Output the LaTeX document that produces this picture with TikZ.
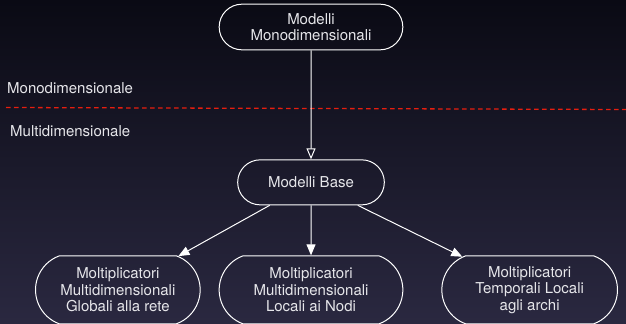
\documentclass[tikz,border=0pt]{standalone}
\usepackage{fontspec}
\setmainfont{TeX Gyre Heros}
\usepackage{tikz}
\usetikzlibrary{positioning,shapes.misc,arrows.meta}
\definecolor{bgtop}{RGB}{10,10,20}
\definecolor{bgbottom}{RGB}{42,40,64}
\definecolor{divider}{RGB}{230,30,15}
\definecolor{ink}{RGB}{230,230,234}

\begin{document}
\begin{tikzpicture}[
  x=0.03cm, y=-0.03cm,
  every node/.style={font=\fontsize{12.8}{14}\selectfont, text=ink},
  model/.style={rounded rectangle, draw=white, line width=0.85pt, align=center,
                inner sep=1pt, minimum height=1.37cm},
  multi/.style={rounded rectangle, rounded rectangle arc length=140, draw=white,
                line width=0.85pt, align=center, inner sep=1pt, minimum height=2.04cm},
  level/.style={anchor=west, inner sep=0pt},
  flow/.style={draw=white, line width=0.85pt},
  cut/.style={draw=divider, line width=1.1pt, dash pattern=on 1.4mm off 1mm}
]
  \shade[top color=bgtop, bottom color=bgbottom] (0,0) rectangle (626,323);
  \useasboundingbox (0,0) rectangle (626,323);

  \node[model, minimum width=5.58cm] (mono) at (311,27) {Modelli\\Monodimensionali};
  \node[model, minimum width=4.47cm, minimum height=1.35cm, below=3.27cm of mono] (base) {Modelli Base};

  \node[multi, minimum width=5.58cm, below=1.5cm of base] (locnodi) {%
    Moltiplicatori\\Multidimensionali\\Locali ai Nodi};
  \node[multi, minimum width=5.01cm, left=0.54cm of locnodi] (globrete) {%
    Moltiplicatori\\Multidimensionali\\Globali alla rete};
  \node[multi, minimum width=5.34cm, right=1.14cm of locnodi] (temparchi) {%
    Moltiplicatori\\Temporali Locali\\agli archi};

  \node[level] (monolbl) at (7,88) {Monodimensionale};
  \node[level] (multilbl) at (10,131) {Multidimensionale};

  \coordinate (cutL) at (6,107.5);
  \coordinate (cutR) at (626,109.5);
  \draw[cut] (cutL) -- (cutR);

  \draw[flow, -{Triangle[open, length=0.33cm, width=0.27cm]}] (mono) -- (base);
  \draw[flow, -{Triangle[length=0.33cm, width=0.27cm]}] (base) -- (globrete);
  \draw[flow, -{Triangle[length=0.33cm, width=0.27cm]}] (base) -- (locnodi);
  \draw[flow, -{Triangle[length=0.33cm, width=0.27cm]}] (base) -- (temparchi);
\end{tikzpicture}
\end{document}
